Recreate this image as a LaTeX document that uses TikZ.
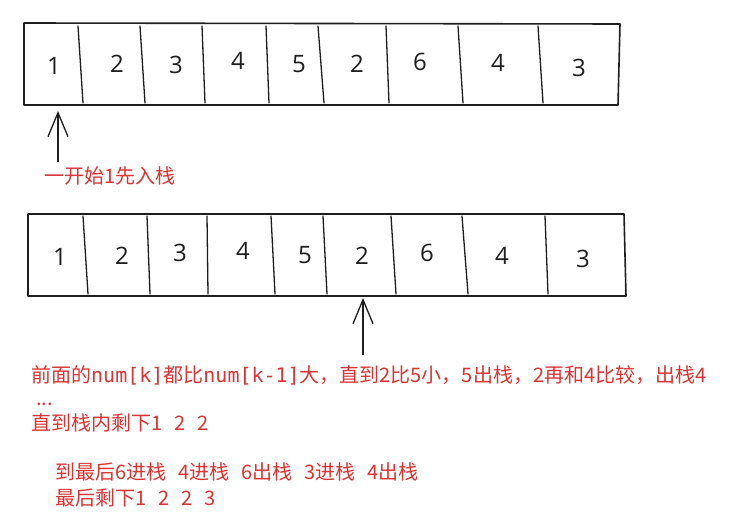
\documentclass[tikz,border=0pt]{standalone}
\usepackage{fontspec}
\setmainfont{DejaVu Sans}
\newfontfamily\cjk{Noto Sans CJK SC}
\newfontfamily\monof{DejaVu Sans Mono}
\newfontfamily\digitf{Open Sans}
\usetikzlibrary{arrows.meta}
\definecolor{ink}{HTML}{1E1E1E}
\definecolor{redtxt}{RGB}{218,52,52}
\newcommand\gp{\hspace{12bp}}
\tikzset{
  frame/.style={draw=ink, line width=1.6bp, line cap=round, line join=round},
  divider/.style={draw=ink, line width=1.3bp, line cap=round},
  digit/.style={font=\digitf\fontsize{24bp}{28bp}\selectfont, text=ink, inner sep=0pt},
  txt/.style={font=\cjk\fontsize{20bp}{24bp}\selectfont, text=redtxt, inner sep=0pt, anchor=base west},
  pointer/.style={draw=ink, line width=1.3bp, -{Straight Barb[length=24bp,width=20bp,line width=1.3bp]}},
}
\begin{document}
\begin{tikzpicture}[x=1bp,y=-1bp]
\useasboundingbox (0,0) rectangle (745,522);
\fill[white] (0,0) rectangle (745,522);

% ---- top array ----
\draw[frame] (24,23) -- (620,24) -- (618,105) -- (24,105) -- cycle;
\foreach \a/\b in {78/83,140/145,202/205,266/269,318/324,386/389,458/463,538/543}
  \draw[divider] (\a,26) -- (\b,103);
\foreach \x/\y/\d [count=\i] in {54/66/1,117/64/2,176/65/3,238/61/4,299/64/5,357/64/2,420/62/6,498/63/4,579/68/3}
  \node[digit] (a\i) at (\x,\y) {\d};

% ---- bottom array ----
\draw[frame] (28,214) -- (624,214) -- (626,296) -- (28,296) -- cycle;
\foreach \a/\b in {83/88,147/150,207/208,271/275,323/327,391/396,462/468,545/548}
  \draw[divider] (\a,216) -- (\b,294);
\foreach \x/\y/\d [count=\i] in {60/257/1,122/256/2,180/253/3,243/251/4,305/255/5,362/256/2,427/253/6,502/256/4,583/259/3}
  \node[digit] (b\i) at (\x,\y) {\d};

% ---- pointers ----
\coordinate (p1tail) at (58,162);
\coordinate (p1tip) at (58,111);
\draw[pointer] (p1tail) -- (p1tip);
\coordinate (p2tail) at (363,355);
\coordinate (p2tip) at (363,298);
\draw[pointer] (p2tail) -- (p2tip);

% ---- texts ----
\node[txt] (t0) at (44,184) {一开始1先入栈};
\node[txt] (t1) at (31,382) {前面的{\monof num[k]}都比{\monof num[k-1]}大，直到2比5小，5出栈，2再和4比较，出栈4};
\node[txt] (t2) at (36,405) {...};
\node[txt] (t3) at (31,430) {直到栈内剩下1\gp2\gp2};
\node[txt] (t4) at (55,479) {到最后6进栈\gp4进栈\gp6出栈\gp3进栈\gp4出栈};
\node[txt] (t5) at (55,505) {最后剩下1\gp2\gp2\gp3};
\end{tikzpicture}
\end{document}
